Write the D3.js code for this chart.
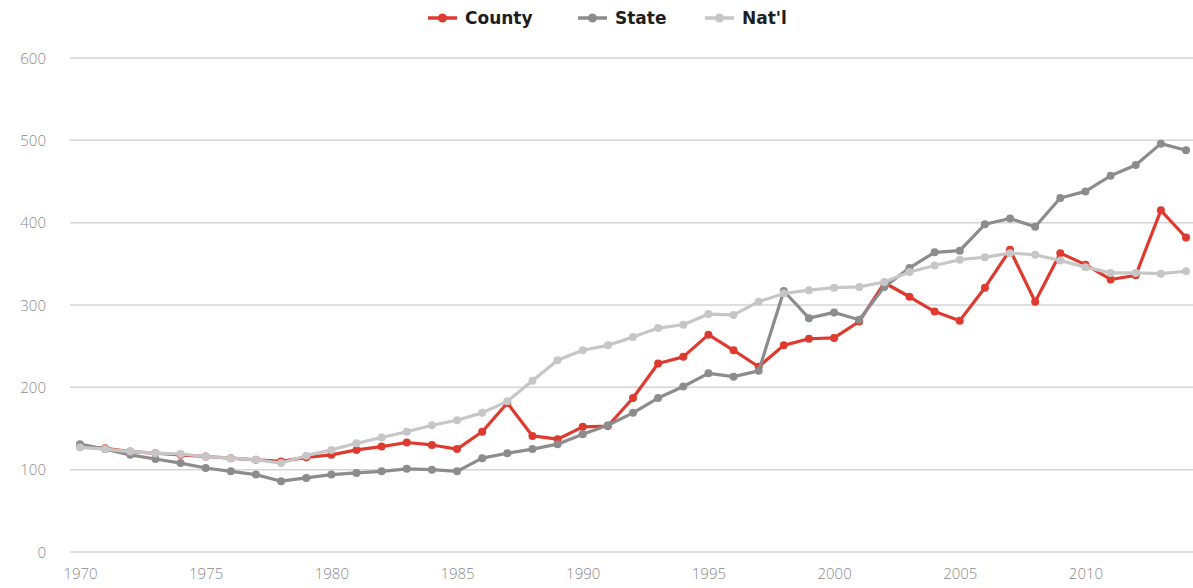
<!DOCTYPE html>
<html>
<head>
<meta charset="utf-8">
<script src="https://cdn.jsdelivr.net/npm/d3@7"></script>
<style>
  html, body { margin: 0; padding: 0; background: #fff; }
  svg { display: block; }
</style>
</head>
<body>
<svg id="chart" width="1193" height="588"></svg>
<script>
const years = d3.range(1970, 2015);
const county = [128,126,122,120,118,116,114,112,110,115,118,124,128,133,130,125,146,181,141,137,152,153,187,229,237,264,245,225,251,259,260,280,327,310,292,281,321,367,304,363,349,331,336,415,382];
const state  = [131,125,118,113,108,102,98,94,86,90,94,96,98,101,100,98,114,120,125,131,143,154,169,187,201,217,213,220,317,284,291,282,322,345,364,366,398,405,395,430,438,457,470,496,488];
const natl   = [127,125,122,120,119,116,114,112,108,117,124,132,139,146,154,160,169,183,208,233,245,251,261,272,276,289,288,304,314,318,321,322,328,340,348,355,358,363,361,354,346,339,339,338,341];
const yTicks = [0,100,200,300,400,500,600];
const xTicks = [1970,1975,1980,1985,1990,1995,2000,2005,2010];
const seriesNames = ["County","State","Nat'l"];
const seriesColors = ["#df3a2f","#8c8c8c","#c6c6c6"];

const svg = d3.select("#chart");
const x = d3.scaleLinear().domain([1970, 2014]).range([80, 1186]);
const y = d3.scaleLinear().domain([0, 600]).range([552, 58]);

// gridlines
svg.append("g").selectAll("line").data(yTicks).join("line")
  .attr("x1", 70).attr("x2", 1193)
  .attr("y1", d => y(d)).attr("y2", d => y(d))
  .attr("stroke", "#d4d4d4").attr("stroke-width", 1.5);

const tickFont = "'Open Sans', sans-serif";

// y axis labels
const yAxis = d3.axisLeft(y).tickValues(yTicks).tickSize(0).tickPadding(0);
const gy = svg.append("g").attr("transform", "translate(46,0)").call(yAxis);
gy.select(".domain").remove();
gy.selectAll("text").attr("font-family", tickFont).attr("font-weight", 300)
  .attr("font-size", 15).attr("fill", "#8a8a8a").attr("dy", "0.35em");

// x axis labels
const xAxis = d3.axisBottom(x).tickValues(xTicks).tickFormat(d3.format("d")).tickSize(0).tickPadding(0);
const gx = svg.append("g").attr("transform", "translate(0,568)").call(xAxis);
gx.select(".domain").remove();
gx.selectAll("text").attr("font-family", tickFont).attr("font-weight", 300)
  .attr("font-size", 15).attr("fill", "#8a8a8a");

const data = [county, state, natl];
const line = d3.line().x((d, i) => x(years[i])).y(d => y(d));

data.forEach((vals, k) => {
  const g = svg.append("g");
  g.append("path").datum(vals).attr("d", line)
    .attr("fill", "none").attr("stroke", seriesColors[k]).attr("stroke-width", 3.2)
    .attr("stroke-linejoin", "round");
  g.selectAll("circle").data(vals).join("circle")
    .attr("cx", (d, i) => x(years[i])).attr("cy", d => y(d)).attr("r", 4)
    .attr("fill", seriesColors[k]);
});

// legend
const legendX = [428, 578, 705];
const lg = svg.append("g");
seriesNames.forEach((name, k) => {
  const g = lg.append("g").attr("transform", `translate(${legendX[k]},18)`);
  g.append("line").attr("x1", 0).attr("x2", 29).attr("y1", 0).attr("y2", 0)
    .attr("stroke", seriesColors[k]).attr("stroke-width", 3.5);
  g.append("circle").attr("cx", 14.5).attr("cy", 0).attr("r", 4.5).attr("fill", seriesColors[k]);
  g.append("text").attr("x", 37).attr("y", 0).attr("dy", "0.35em")
    .attr("font-family", "'DejaVu Sans', sans-serif").attr("font-weight", 700)
    .attr("font-size", 17).attr("fill", "#1e1e1e").text(name);
});
</script>
</body>
</html>
